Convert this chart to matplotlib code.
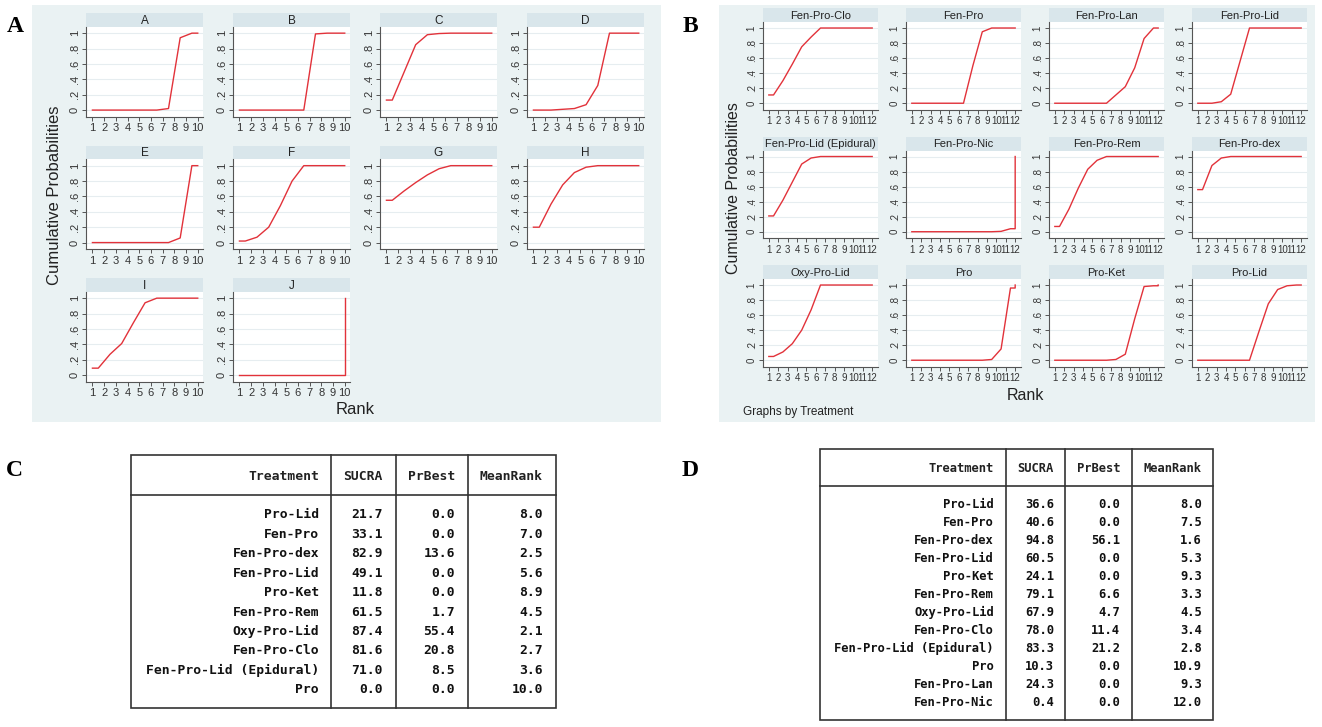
import matplotlib
matplotlib.use("Agg")
import matplotlib.pyplot as plt
from matplotlib.patches import Rectangle

W, H = 1322, 727

# cumulative probability of being ranked k or better, k = 1..n
names_a = ["A", "B", "C", "D", "E", "F", "G", "H", "I", "J"]
cum_a = [
    [0, 0, 0, 0, 0, 0, 0.02, 0.94, 1, 1],
    [0, 0, 0, 0, 0, 0, 0.99, 1, 1, 1],
    [0.13, 0.49, 0.85, 0.98, 0.995, 1, 1, 1, 1, 1],
    [0, 0, 0.01, 0.02, 0.07, 0.32, 1, 1, 1, 1],
    [0, 0, 0, 0, 0, 0, 0, 0.06, 1, 1],
    [0.02, 0.07, 0.2, 0.48, 0.8, 1, 1, 1, 1, 1],
    [0.55, 0.67, 0.78, 0.88, 0.96, 1, 1, 1, 1, 1],
    [0.2, 0.5, 0.75, 0.91, 0.98, 1, 1, 1, 1, 1],
    [0.09, 0.27, 0.41, 0.68, 0.94, 1, 1, 1, 1, 1],
    [0, 0, 0, 0, 0, 0, 0, 0, 0, 1],
]

names_b = ["Fen-Pro-Clo", "Fen-Pro", "Fen-Pro-Lan", "Fen-Pro-Lid",
           "Fen-Pro-Lid (Epidural)", "Fen-Pro-Nic", "Fen-Pro-Rem", "Fen-Pro-dex",
           "Oxy-Pro-Lid", "Pro", "Pro-Ket", "Pro-Lid"]
cum_b = [
    [0.11, 0.3, 0.52, 0.75, 0.88, 1, 1, 1, 1, 1, 1, 1],
    [0, 0, 0, 0, 0, 0, 0.5, 0.95, 1, 1, 1, 1],
    [0, 0, 0, 0, 0, 0, 0.11, 0.22, 0.47, 0.86, 1, 1],
    [0, 0, 0.02, 0.12, 0.56, 1, 1, 1, 1, 1, 1, 1],
    [0.21, 0.42, 0.66, 0.9, 0.98, 1, 1, 1, 1, 1, 1, 1],
    [0, 0, 0, 0, 0, 0, 0, 0, 0, 0.005, 0.04, 1],
    [0.07, 0.3, 0.58, 0.83, 0.95, 1, 1, 1, 1, 1, 1, 1],
    [0.56, 0.88, 0.98, 1, 1, 1, 1, 1, 1, 1, 1, 1],
    [0.05, 0.11, 0.22, 0.4, 0.67, 1, 1, 1, 1, 1, 1, 1],
    [0, 0, 0, 0, 0, 0, 0, 0, 0.01, 0.15, 0.96, 1],
    [0, 0, 0, 0, 0, 0, 0.01, 0.08, 0.55, 0.98, 0.99, 1],
    [0, 0, 0, 0, 0, 0, 0.38, 0.75, 0.94, 0.99, 1, 1],
]

# ranking tables
cols = ["Treatment", "SUCRA", "PrBest", "MeanRank"]
treat_c = ["Pro-Lid", "Fen-Pro", "Fen-Pro-dex", "Fen-Pro-Lid", "Pro-Ket", "Fen-Pro-Rem",
           "Oxy-Pro-Lid", "Fen-Pro-Clo", "Fen-Pro-Lid (Epidural)", "Pro"]
sucra_c = [21.7, 33.1, 82.9, 49.1, 11.8, 61.5, 87.4, 81.6, 71.0, 0.0]
prbest_c = [0.0, 0.0, 13.6, 0.0, 0.0, 1.7, 55.4, 20.8, 8.5, 0.0]
meanrank_c = [8.0, 7.0, 2.5, 5.6, 8.9, 4.5, 2.1, 2.7, 3.6, 10.0]

treat_d = ["Pro-Lid", "Fen-Pro", "Fen-Pro-dex", "Fen-Pro-Lid", "Pro-Ket", "Fen-Pro-Rem",
           "Oxy-Pro-Lid", "Fen-Pro-Clo", "Fen-Pro-Lid (Epidural)", "Pro", "Fen-Pro-Lan",
           "Fen-Pro-Nic"]
sucra_d = [36.6, 40.6, 94.8, 60.5, 24.1, 79.1, 67.9, 78.0, 83.3, 10.3, 24.3, 0.4]
prbest_d = [0.0, 0.0, 56.1, 0.0, 0.0, 6.6, 4.7, 11.4, 21.2, 0.0, 0.0, 0.0]
meanrank_d = [8.0, 7.5, 1.6, 5.3, 9.3, 3.3, 4.5, 3.4, 2.8, 10.9, 9.3, 12.0]

plt.rcParams['font.family'] = ['Liberation Sans', 'DejaVu Sans']

bg_col = "#eaf2f3"
strip_col = "#d9e6eb"
red = "#e2323a"
axcol = "#555555"


def box(x0, y0, x1, y1):
    return [x0 / W, 1 - y1 / H, (x1 - x0) / W, (y1 - y0) / H]


fig = plt.figure(figsize=(W / 100, H / 100), dpi=100)

# background layer for panels, labels and tables (pixel coords)
bg = fig.add_axes([0, 0, 1, 1], zorder=-1)
bg.set_xlim(0, W)
bg.set_ylim(H, 0)
bg.axis("off")
bg.add_patch(Rectangle((32, 5), 629, 417, color=bg_col, lw=0))
bg.add_patch(Rectangle((719, 5), 596, 417, color=bg_col, lw=0))


def small_plot(x0, top, w, strip_h, plot_h, title, cum, fs_tick, fs_title):
    n = len(cum)
    sax = fig.add_axes(box(x0, top, x0 + w, top + strip_h))
    sax.set_facecolor(strip_col)
    sax.set_xticks([])
    sax.set_yticks([])
    for s in sax.spines.values():
        s.set_visible(False)
    sax.text(0.5, 0.45, title, ha="center", va="center", fontsize=fs_title,
             color="#222222", transform=sax.transAxes)

    ax = fig.add_axes(box(x0, top + strip_h, x0 + w, top + strip_h + plot_h))
    ax.set_facecolor("white")
    xs = [1] + [k + 0.5 for k in range(1, n)] + [n, n]
    ys = [cum[0]] + cum[:n - 1] + [cum[n - 2], cum[n - 1]]
    ax.plot(xs, ys, color=red, lw=1.0)
    ax.set_xlim(0.45 if n == 10 else 0.38, n + 0.45 if n == 10 else n + 0.62)
    ax.set_ylim(-0.09, 1.08)
    ax.set_xticks(range(1, n + 1))
    ax.set_yticks([0, 0.2, 0.4, 0.6, 0.8, 1])
    ax.set_yticklabels(["0", ".2", ".4", ".6", ".8", "1"])
    ax.grid(axis="y", color="#e6edf0", lw=0.8)
    ax.set_axisbelow(True)
    for s in ["top", "right"]:
        ax.spines[s].set_visible(False)
    for s in ["left", "bottom"]:
        ax.spines[s].set_color(axcol)
        ax.spines[s].set_linewidth(0.8)
    ax.tick_params(axis="both", direction="out", length=3, width=0.7, color=axcol,
                   labelsize=fs_tick, labelcolor="#333333", pad=1.5)
    ax.tick_params(axis="y", labelrotation=90)
    for lab in ax.get_yticklabels():
        lab.set_va("center")


# panel A
for i, (nm, c) in enumerate(zip(names_a, cum_a)):
    r, k = divmod(i, 4)
    small_plot(86 + k * 147, 13 + r * 132.5, 117, 14, 90, nm, c, 8, 8.5)

# panel B
for i, (nm, c) in enumerate(zip(names_b, cum_b)):
    r, k = divmod(i, 4)
    small_plot(763 + k * 143, 8 + r * 128.5, 115, 14, 88, nm, c, 7, 8)

bg.text(55, 195, "Cumulative Probabilities", rotation=90, ha="center", va="center",
        fontsize=12, color="#222222")
bg.text(355, 410, "Rank", ha="center", va="center", fontsize=12, color="#222222")
bg.text(733, 188, "Cumulative Probabilities", rotation=90, ha="center", va="center",
        fontsize=11.5, color="#222222")
bg.text(1025, 396, "Rank", ha="center", va="center", fontsize=11.5, color="#222222")
bg.text(743, 412, "Graphs by Treatment", ha="left", va="center", fontsize=8.5,
        color="#222222")

for lt, (lx, ly) in zip(["A", "B", "C", "D"], [(15, 27), (690, 27), (14, 470), (690, 470)]):
    bg.text(lx, ly, lt, ha="center", va="center", fontsize=17, fontweight="bold",
            family="Liberation Serif", color="black")


def draw_table(x0, x1, y0, y1, yhead_line, vlines, right_x, yhead, row0, pitch,
               treat, sucra, prbest, meanrank, fs):
    lc = "#333333"
    bg.add_patch(Rectangle((x0, y0), x1 - x0, y1 - y0, fill=False, ec=lc, lw=1.2))
    bg.plot([x0, x1], [yhead_line, yhead_line], color=lc, lw=1.2)
    for vx in vlines:
        bg.plot([vx, vx], [y0, y1], color=lc, lw=1.2)
    for cx, name in zip(right_x, cols):
        bg.text(cx, yhead, name, ha="right", va="center", fontsize=fs,
                family="DejaVu Sans Mono", fontweight="bold", color="#222222")
    for i in range(len(treat)):
        y = row0 + i * pitch
        vals = [treat[i], "%.1f" % sucra[i], "%.1f" % prbest[i], "%.1f" % meanrank[i]]
        for cx, v in zip(right_x, vals):
            bg.text(cx, y, v, ha="right", va="center", fontsize=fs,
                    family="DejaVu Sans Mono", fontweight="bold", color="#111111")


draw_table(131, 556, 455, 708, 495, [331, 396, 468], [319, 383, 455, 543], 476, 515,
           19.4, treat_c, sucra_c, prbest_c, meanrank_c, 9.4)
draw_table(820, 1213, 449, 720, 486, [1006, 1065, 1132], [994, 1054, 1120, 1202], 468,
           504, 18, treat_d, sucra_d, prbest_d, meanrank_d, 8.7)

fig.savefig("out.png", dpi=100)
